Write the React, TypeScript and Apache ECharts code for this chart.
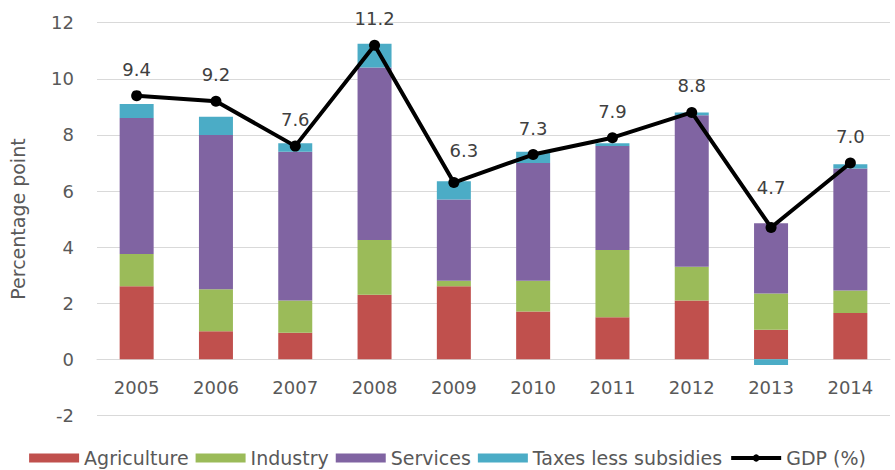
import React, { useEffect, useRef } from "react";
import * as echarts from "echarts";

const years = ["2005", "2006", "2007", "2008", "2009", "2010", "2011", "2012", "2013", "2014"];
const agriculture = [2.6, 1.0, 0.95, 2.3, 2.6, 1.7, 1.5, 2.1, 1.05, 1.65];
const industry = [1.15, 1.5, 1.15, 1.95, 0.2, 1.1, 2.4, 1.2, 1.3, 0.8];
const services = [4.85, 5.5, 5.3, 6.15, 2.9, 4.2, 3.7, 5.4, 2.5, 4.35];
const taxes = [0.5, 0.65, 0.3, 0.85, 0.65, 0.4, 0.1, 0.1, -0.2, 0.15];
const gdp = [9.4, 9.2, 7.6, 11.2, 6.3, 7.3, 7.9, 8.8, 4.7, 7.0];

const FONT = "DejaVu Sans";
const TEXT = "#595959";

export default function App() {
  const ref = useRef<HTMLDivElement>(null);
  useEffect(() => {
    if (!ref.current) return;
    const chart = echarts.init(ref.current, undefined, { renderer: "svg" });
    const bar = (name: string, data: number[], color: string) => ({
      name,
      type: "bar",
      stack: "total",
      barWidth: 34,
      data,
      itemStyle: { color },
    });
    const gdpData = gdp.map((v, i) => {
      let label: any = { distance: 12 };
      if (i === 4) label = { distance: 18, offset: [10, 0] };
      if (i === 8) label = { distance: 25 };
      return { value: v, label };
    });
    chart.setOption({
      animation: false,
      textStyle: { fontFamily: FONT },
      grid: { left: 90, right: 5, top: 22.7, bottom: 54.6 },
      legend: {
        left: "center",
        top: 448,
        itemWidth: 50,
        itemHeight: 9,
        itemGap: 7,
        padding: 0,
        textStyle: { fontFamily: FONT, fontSize: 19, color: TEXT, lineHeight: 20 },
        data: [
          { name: "Agriculture", icon: "rect" },
          { name: "Industry", icon: "rect" },
          { name: "Services", icon: "rect" },
          { name: "Taxes less subsidies", icon: "rect" },
          { name: "GDP (%)", lineStyle: { width: 4, color: "#000" }, itemStyle: { color: "#000" } },
        ],
      },
      xAxis: {
        type: "category",
        data: years,
        offset: -56.1,
        axisLine: { onZero: false, lineStyle: { color: "#D9D9D9", width: 1 } },
        axisTick: { show: false },
        axisLabel: { fontFamily: FONT, fontSize: 18, color: TEXT, margin: 19 },
      },
      yAxis: {
        type: "value",
        min: -2,
        max: 12,
        interval: 2,
        name: "Percentage point",
        nameLocation: "middle",
        nameGap: 70,
        nameTextStyle: { fontFamily: FONT, fontSize: 19, color: TEXT },
        axisLine: { show: false },
        axisTick: { show: false },
        axisLabel: { fontFamily: FONT, fontSize: 18, color: TEXT, margin: 23 },
        splitLine: { lineStyle: { color: "#D9D9D9", width: 1 } },
      },
      series: [
        bar("Agriculture", agriculture, "#C0504D"),
        bar("Industry", industry, "#9BBB59"),
        bar("Services", services, "#8064A2"),
        bar("Taxes less subsidies", taxes, "#4BACC6"),
        {
          name: "GDP (%)",
          type: "line",
          data: gdpData,
          symbol: "circle",
          symbolSize: 11,
          itemStyle: { color: "#000000" },
          lineStyle: { color: "#000000", width: 4 },
          label: {
            show: true,
            position: "top",
            fontFamily: FONT,
            fontSize: 18,
            color: "#404040",
            formatter: (p: any) => Number(p.value).toFixed(1),
          },
          z: 10,
        },
      ],
    });
    return () => chart.dispose();
  }, []);
  return (
    <div
      ref={ref}
      style={{ position: "fixed", left: 0, top: 0, width: 895, height: 470, background: "#fff" }}
    />
  );
}
